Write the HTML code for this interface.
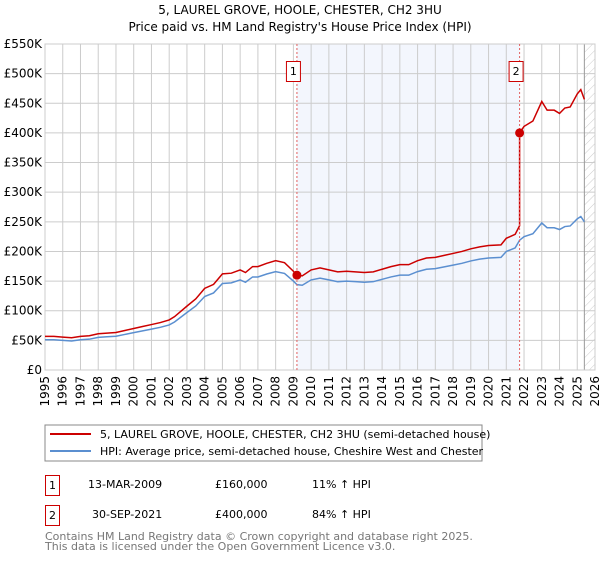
<!DOCTYPE html>
<html><head><meta charset="utf-8"><style>
body{margin:0;background:#fff;font-family:"DejaVu Sans","Liberation Sans",sans-serif;}
svg text{font-family:"DejaVu Sans","Liberation Sans",sans-serif;}
</style></head><body>
<svg id="c" width="600" height="560" xmlns="http://www.w3.org/2000/svg">
<defs><pattern id="hatch" width="6" height="6" patternUnits="userSpaceOnUse" patternTransform="rotate(45)"><line x1="0" y1="0" x2="0" y2="6" stroke="#ccc" stroke-width="1"/></pattern></defs>
<text x="300" y="14" text-anchor="middle" font-size="12" fill="#000">5, LAUREL GROVE, HOOLE, CHESTER, CH2 3HU</text>
<text x="300" y="31" text-anchor="middle" font-size="12" fill="#000">Price paid vs. HM Land Registry's House Price Index (HPI)</text>
<g id="plot"></g>
<rect x="45" y="425" width="437" height="36" fill="#fff" stroke="#888"/>
<line x1="50" y1="434" x2="91" y2="434" stroke="#cc0000" stroke-width="2"/>
<text x="100" y="438" font-size="11">5, LAUREL GROVE, HOOLE, CHESTER, CH2 3HU (semi-detached house)</text>
<line x1="50" y1="451" x2="91" y2="451" stroke="#5b8fd0" stroke-width="2"/>
<text x="100" y="455" font-size="11">HPI: Average price, semi-detached house, Cheshire West and Chester</text>
<g>
<rect x="45.5" y="475.5" width="14" height="20" fill="#fff" stroke="#cc0000"/><text x="52.5" y="489" text-anchor="middle" font-size="11">1</text>
<text x="88" y="488" font-size="11">13-MAR-2009</text><text x="215" y="488" font-size="11">£160,000</text><text x="312" y="488" font-size="11">11% ↑ HPI</text></g>
<g>
<rect x="45.5" y="505.5" width="14" height="20" fill="#fff" stroke="#cc0000"/><text x="52.5" y="519" text-anchor="middle" font-size="11">2</text>
<text x="92" y="518" font-size="11">30-SEP-2021</text><text x="215" y="518" font-size="11">£400,000</text><text x="312" y="518" font-size="11">84% ↑ HPI</text></g>
<text x="45" y="540" font-size="11" fill="#777">Contains HM Land Registry data © Crown copyright and database right 2025.</text>
<text x="45" y="550" font-size="11" fill="#777">This data is licensed under the Open Government Licence v3.0.</text>
</svg>
<script>
const hpiYears=[1995,1995.5,1996,1996.5,1997,1997.5,1998,1998.5,1999,1999.5,2000,2000.5,2001,2001.5,2002,2002.3,2003,2003.5,2004,2004.5,2005,2005.5,2006,2006.3,2006.7,2007,2007.5,2008,2008.5,2009,2009.2,2009.5,2010,2010.5,2011,2011.5,2012,2012.5,2013,2013.5,2014,2014.5,2015,2015.5,2016,2016.5,2017,2017.5,2018,2018.5,2019,2019.5,2020,2020.7,2021,2021.5,2021.75,2022,2022.5,2023,2023.3,2023.7,2024,2024.3,2024.6,2025,2025.2,2025.4];
const hpiValues=[51,51,50,49,51,52,55,56,57,60,63,66,69,72,76,81,97,108,124,130,146,147,152,148,157,157,162,166,163,150,144,143,152,155,152,149,150,149,148,149,153,157,160,160,166,170,171,174,177,180,184,187,189,190,200,206,219,225,230,248,240,240,237,242,243,255,259,250];
const saleYears=[2009.2,2021.75];
const salePrices=[160,400];
const yTicks=[0,50,100,150,200,250,300,350,400,450,500,550];
const yTickLabels=["£0","£50K","£100K","£150K","£200K","£250K","£300K","£350K","£400K","£450K","£500K","£550K"];
const xTicks=[1995,1996,1997,1998,1999,2000,2001,2002,2003,2004,2005,2006,2007,2008,2009,2010,2011,2012,2013,2014,2015,2016,2017,2018,2019,2020,2021,2022,2023,2024,2025,2026];
</script>
<script>
const NS="http://www.w3.org/2000/svg";
const L=45,R=595,T=44,B=370;
const x=y=>L+(y-1995)/(2026-1995)*(R-L);
const yv=v=>B-v/550*(B-T);
const g=document.getElementById('plot');
function mk(t,a){const e=document.createElementNS(NS,t);for(const k in a)e.setAttribute(k,a[k]);g.appendChild(e);return e;}
const n=Math.min(hpiYears.length,hpiValues.length);
function hpiAt(t){for(let i=0;i<n-1;i++){if(t>=hpiYears[i]&&t<=hpiYears[i+1]){const f=(t-hpiYears[i])/(hpiYears[i+1]-hpiYears[i]);return hpiValues[i]+f*(hpiValues[i+1]-hpiValues[i]);}}return hpiValues[n-1];}
let e=mk('rect',{x:x(saleYears[0]),y:T,width:x(saleYears[1])-x(saleYears[0]),height:B-T,fill:'#f3f6fd'});

e=mk('rect',{x:x(2025.4),y:T,width:R-x(2025.4),height:B-T,fill:'url(#hatch)'});

yTicks.forEach((v,i)=>{
 e=mk('line',{x1:L,x2:R,y1:yv(v),y2:yv(v),stroke:'#ccc'});
 
 e=mk('text',{x:L-3,y:yv(v)+4,'text-anchor':'end','font-size':'12'});e.textContent=yTickLabels[i];
 
});
xTicks.forEach(t=>{
 e=mk('line',{x1:x(t),x2:x(t),y1:T,y2:B,stroke:'#ccc'});
 
 e=mk('text',{x:0,y:0,'font-size':'12','text-anchor':'end',transform:`translate(${x(t)+4},${B+6}) rotate(-90)`});e.textContent=t;
 
});
e=mk('line',{x1:x(2025.4),x2:x(2025.4),y1:T,y2:B,stroke:'#999'});

e=mk('rect',{x:L,y:T,width:R-L,height:B-T,fill:'none',stroke:'#ccc'});

let pts=[];for(let i=0;i<n;i++)pts.push(x(hpiYears[i])+','+yv(hpiValues[i]));
e=mk('polyline',{points:pts.join(' '),fill:'none',stroke:'#5b8fd0','stroke-width':1.5});

const f1=salePrices[0]/hpiAt(saleYears[0]),f2=salePrices[1]/hpiAt(saleYears[1]);
let rp=[];
for(let i=0;i<n;i++){const t=hpiYears[i];const f=t<saleYears[1]?f1:f2;
 if(t>=saleYears[1]&&i>0&&hpiYears[i-1]<saleYears[1]){rp.push(x(saleYears[1])+','+yv(hpiAt(saleYears[1])*f1));rp.push(x(saleYears[1])+','+yv(salePrices[1]));}
 rp.push(x(t)+','+yv(hpiValues[i]*f));}
e=mk('polyline',{points:rp.join(' '),fill:'none',stroke:'#cc0000','stroke-width':1.5});

saleYears.forEach((s,i)=>{
 e=mk('line',{x1:x(s),x2:x(s),y1:T,y2:B,stroke:'#e06060','stroke-dasharray':'2,2'});
 
 e=mk('circle',{cx:x(s),cy:yv(salePrices[i]),r:4.5,fill:'#cc0000'});
 
 e=mk('rect',{x:x(s)-10.5,y:61.5,width:14,height:20,fill:'#fff',stroke:'#cc0000'});
 
 e=mk('text',{x:x(s)-3.5,y:75,'text-anchor':'middle','font-size':'11'});e.textContent=String(i+1);
 
});
</script>
</body></html>
